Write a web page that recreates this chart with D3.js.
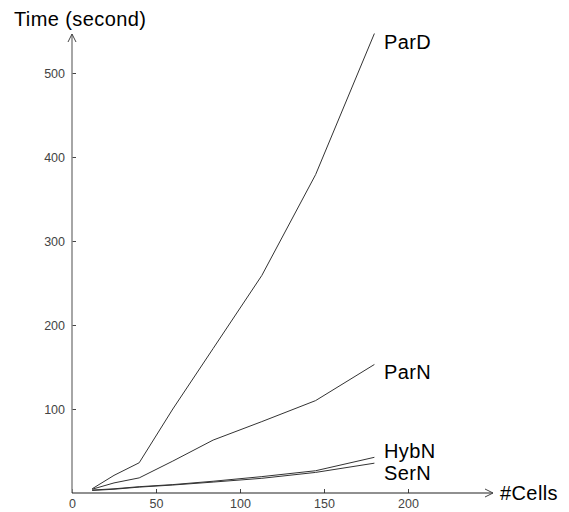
<!DOCTYPE html>
<html>
<head>
<meta charset="utf-8">
<script src="https://cdn.jsdelivr.net/npm/d3@7"></script>
<style>
  body { margin: 0; background: #fff; }
  svg { display: block; font-family: "Liberation Sans", Arial, sans-serif; }
  .tick text { fill: #444; font-size: 12.5px; }
  .lbl { font-size: 20px; fill: #000; letter-spacing: 0.4px; }
</style>
</head>
<body>
<svg id="chart" width="569" height="512"></svg>
<script>
// data
var cells = [12, 25, 40, 60, 84, 113, 145, 180];
var parD = [5, 21, 36, 100, 172, 259, 379, 547];
var parN = [4.5, 12, 18, 38, 63, 85, 110, 153];
var hybN = [3.5, 5, 7.5, 10, 14, 19.5, 26.5, 42.5];
var serN = [3, 4.5, 7, 9.5, 13, 17.5, 24.5, 35.5];
var seriesNames = ["ParD", "ParN", "HybN", "SerN"];
var xTicks = [0, 50, 100, 150, 200];
var yTicks = [100, 200, 300, 400, 500];

var svg = d3.select("#chart");

var x = d3.scaleLinear().domain([0, 200]).range([72, 408]),
    y = d3.scaleLinear().domain([0, 500]).range([493, 73]);

var series = [parD, parN, hybN, serN].map(function(vals, i) {
  return {name: seriesNames[i], pts: vals.map(function(v, j) { return [cells[j], v]; })};
});

// x axis ticks (pointing up) and labels
var gx = svg.append("g").attr("transform", "translate(0," + y(0) + ")")
  .call(d3.axisBottom(x).tickValues(xTicks).tickSize(-4).tickPadding(6));
gx.select(".domain").remove();
gx.selectAll(".tick line").attr("stroke", "#444");

// y axis ticks (pointing right) and labels
var gy = svg.append("g").attr("transform", "translate(" + x(0) + ",0)")
  .call(d3.axisLeft(y).tickValues(yTicks).tickSize(-4).tickPadding(7));
gy.select(".domain").remove();
gy.selectAll(".tick line").attr("stroke", "#444");

// axis lines with open arrow heads
var x0 = x(0), y0 = y(0);
svg.append("line").attr("x1", x0).attr("y1", y0).attr("x2", x0).attr("y2", 34)
  .attr("stroke", "#888").attr("stroke-width", 1.5);
svg.append("path").attr("d", "M" + (x0 - 4) + ",42L" + x0 + ",34L" + (x0 + 4) + ",42")
  .attr("fill", "none").attr("stroke", "#444");
svg.append("line").attr("x1", x0).attr("y1", y0).attr("x2", 493).attr("y2", y0)
  .attr("stroke", "#222").attr("stroke-width", 1.2);
svg.append("path").attr("d", "M485," + (y0 - 4) + "L493," + y0 + "L485," + (y0 + 4))
  .attr("fill", "none").attr("stroke", "#444");

// series lines
var line = d3.line().x(function(d) { return x(d[0]); }).y(function(d) { return y(d[1]); });
svg.selectAll("path.series").data(series).enter().append("path")
  .attr("class", "series")
  .attr("d", function(d) { return line(d.pts); })
  .attr("fill", "none")
  .attr("stroke", "#333")
  .attr("stroke-width", 1);

// series labels
var lblY = {ParD: 49, ParN: 379, HybN: 458, SerN: 480};
svg.selectAll("text.name").data(series).enter().append("text")
  .attr("class", "lbl name")
  .attr("x", 384)
  .attr("y", function(d) { return lblY[d.name]; })
  .text(function(d) { return d.name; });

// axis titles
svg.append("text").attr("class", "lbl").attr("x", 14).attr("y", 26).text("Time (second)");
svg.append("text").attr("class", "lbl").attr("x", 500).attr("y", 500).text("#Cells");
</script>
</body>
</html>
